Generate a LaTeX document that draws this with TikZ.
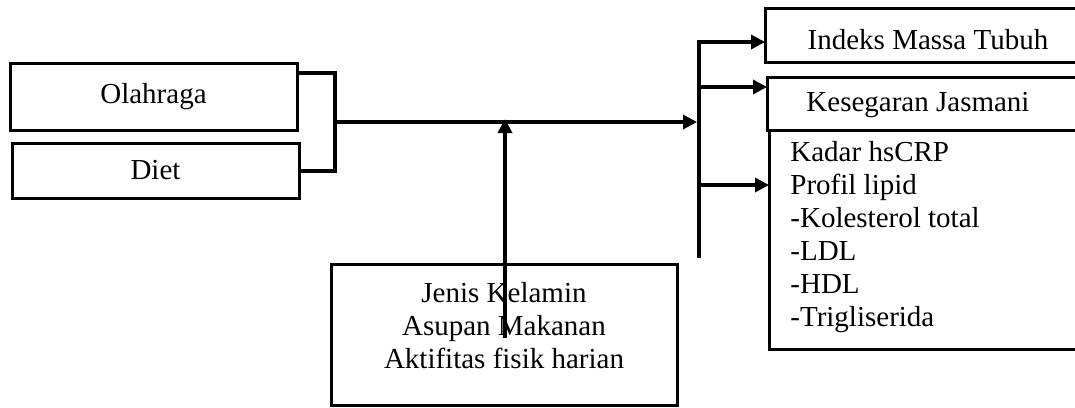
\documentclass[tikz,border=0pt]{standalone}
\usepackage{fontspec}
\setmainfont{Liberation Serif}
\usetikzlibrary{arrows.meta}
\begin{document}
\begin{tikzpicture}[x=0.5pt,y=-0.5pt,
  box/.style={draw, line width=1.5pt, inner sep=0pt, outer sep=0pt},
  conn/.style={line width=2pt},
  arr/.style={conn, -{Triangle[length=7pt,width=7pt,fill=black]}},
  txt/.style={font=\fontsize{14.5pt}{16.5pt}\selectfont, inner sep=0pt}]
\useasboundingbox (0,0) rectangle (1075,407);
\clip (0,0) rectangle (1075,407);
% left boxes
\node[box, txt, minimum width=143.5pt, minimum height=33.5pt] (olah) at (153.5,96.5) {Olahraga};
\node[box, txt, minimum width=143.5pt, minimum height=27.5pt] (diet) at (155.5,170.5) {Diet};
% right boxes
\node[box, minimum width=162.5pt, minimum height=27pt] (imt) at (927.5,35) {};
\node[txt] (imtt) at (928,40) {Indeks Massa Tubuh};
\node[box, minimum width=161.5pt, minimum height=26.5pt] (kes) at (928.5,103.5) {};
\node[txt] (kest) at (918,105) {Kesegaran Jasmani};
\node[box, minimum width=160.5pt, minimum height=109.5pt] (lab) at (929.5,239.5) {};
\node[txt, align=left, anchor=north west] (labt) at (790,141)
  {Kadar hsCRP\\Profil lipid\\-Kolesterol total\\-LDL\\-HDL\\-Trigliserida};
% bottom box
\node[box, minimum width=173pt, minimum height=70.5pt] (fak) at (504,334.5) {};
\node[txt, align=center] (fakt) at (504,326)
  {Jenis Kelamin\\Asupan Makanan\\Aktifitas fisik harian};
% connectors
\coordinate (bx) at (335,122);
\coordinate (bb) at (335,170.5);
\draw[conn] ([yshift=-5pt]olah.north east) -| (bb) -- (diet.east);
\coordinate (vt) at (699,40);
\coordinate (vb) at (699,258);
\coordinate (vm) at (697,122);
\draw[arr] (bx) -- (vm);
\draw[conn] (vt) -- (vb);
\coordinate (a1) at (699,42);
\coordinate (a2) at (699,87);
\coordinate (a3) at (699,185);
\draw[arr] (a1) -- (a1 -| imt.west);
\draw[arr] (a2) -- (a2 -| kes.west);
\draw[arr] (a3) -- (a3 -| lab.west);
\coordinate (us) at (505,338);
\coordinate (ue) at (505,119);
\draw[arr] (us) -- (ue);
\end{tikzpicture}
\end{document}
